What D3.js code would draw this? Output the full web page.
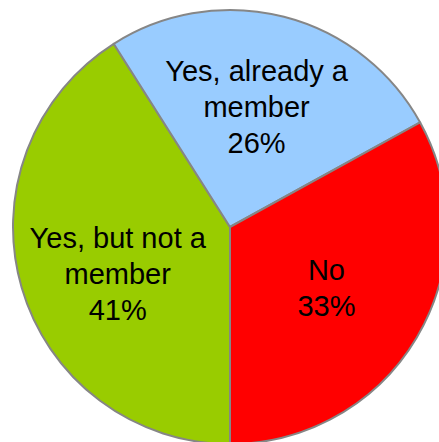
<!DOCTYPE html>
<html>
<head>
<meta charset="utf-8">
<script src="https://cdn.jsdelivr.net/npm/d3@7"></script>
<style>
  html, body { margin: 0; padding: 0; background: #fff; overflow: hidden; }
  svg { display: block; }
</style>
</head>
<body>
<svg id="chart" width="439" height="442"></svg>
<script>
// Survey answers, drawn clockwise starting from the bottom of the pie
const categories = ["Yes, but not a member", "Yes, already a member", "No"];
const labelLines = [["Yes, but not a", "member"], ["Yes, already a", "member"], ["No"]];
const values = [41, 26, 33];
const colors = ["#99CC00", "#99CCFF", "#FF0000"];

// Layout
const width = 439, height = 442;
const cx = 230, cy = 227, radius = 217;
const fontSize = 29, lineHeight = 36, capHeight = 20.8;
const labelRadius = 119;
// small per-slice nudges so each label block sits well inside its wedge
const labelNudge = [[2, 13], [-3, -5], [-6, 0]];

const svg = d3.select("#chart");
const g = svg.append("g").attr("transform", `translate(${cx},${cy})`);

const pie = d3.pie()
  .sort(null)
  .value(d => d.value)
  .startAngle(Math.PI)
  .endAngle(3 * Math.PI);

const data = categories.map((c, i) => ({
  name: c, value: values[i], color: colors[i], lines: labelLines[i], nudge: labelNudge[i]
}));
const arcs = pie(data);

const arc = d3.arc().innerRadius(0).outerRadius(radius);
const labelArc = d3.arc().innerRadius(labelRadius).outerRadius(labelRadius);

g.selectAll("path.slice")
  .data(arcs)
  .join("path")
  .attr("class", "slice")
  .attr("d", arc)
  .attr("fill", d => d.data.color)
  .attr("stroke", "#868686")
  .attr("stroke-width", 2)
  .attr("stroke-linejoin", "round");

const labels = g.selectAll("text.label")
  .data(arcs)
  .join("text")
  .attr("class", "label")
  .attr("text-anchor", "middle")
  .attr("font-family", "'Liberation Sans', Arial, sans-serif")
  .attr("font-size", fontSize)
  .attr("fill", "#000");

labels.each(function(d) {
  const [cxl, cyl] = labelArc.centroid(d);
  const x = cxl + d.data.nudge[0], y = cyl + d.data.nudge[1];
  const lines = d.data.lines.concat([d.data.value + "%"]);
  const block = capHeight + (lines.length - 1) * lineHeight;
  const firstBaseline = y - block / 2 + capHeight;
  d3.select(this).selectAll("tspan")
    .data(lines)
    .join("tspan")
    .attr("x", x)
    .attr("y", (t, i) => firstBaseline + i * lineHeight)
    .text(t => t);
});
</script>
</body>
</html>
